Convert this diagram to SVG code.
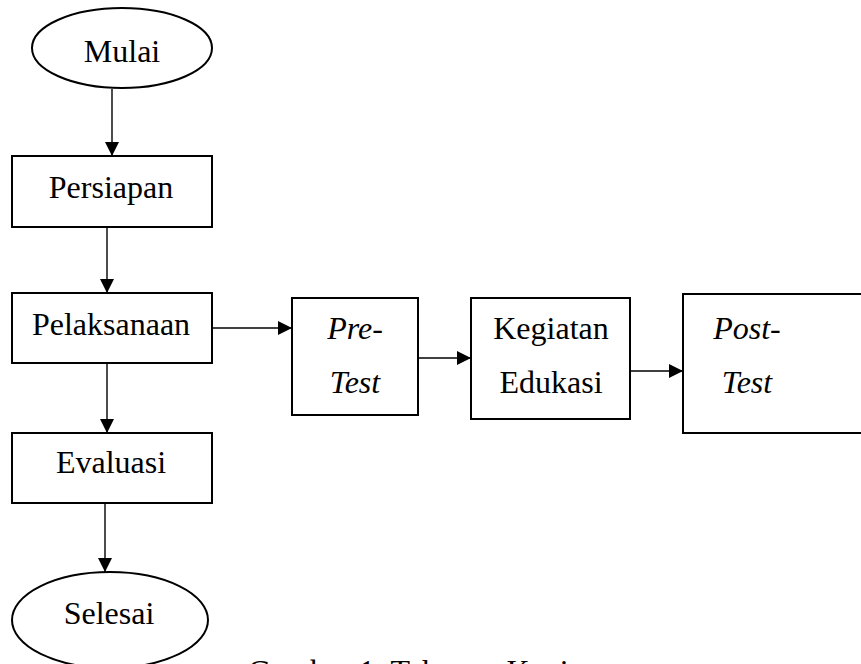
<svg xmlns="http://www.w3.org/2000/svg" width="861" height="664" viewBox="0 0 861 664">
<style>
.box{fill:#fff;stroke:#000;stroke-width:2}
.t{font-family:"Liberation Serif","Times New Roman",serif;font-size:32px;fill:#000;text-anchor:middle}
.i{font-style:italic}
.c{stroke:#000;stroke-width:1.4;fill:none}
</style>
<defs>
<marker id="ah" markerUnits="userSpaceOnUse" markerWidth="16" markerHeight="16" viewBox="0 0 16 16" refX="15" refY="8" orient="auto">
<path d="M1,1 L15,8 L1,15 Z" fill="#000"/>
</marker>
</defs>
<rect width="861" height="664" fill="#fff"/>
<g id="connectors">
<line class="c" x1="112" y1="89" x2="112" y2="156" marker-end="url(#ah)"/>
<line class="c" x1="107" y1="227" x2="107" y2="293" marker-end="url(#ah)"/>
<line class="c" x1="212" y1="328" x2="292" y2="328" marker-end="url(#ah)"/>
<line class="c" x1="107" y1="363" x2="107" y2="433" marker-end="url(#ah)"/>
<line class="c" x1="105" y1="503" x2="105" y2="572" marker-end="url(#ah)"/>
<line class="c" x1="418" y1="358" x2="471" y2="358" marker-end="url(#ah)"/>
<line class="c" x1="630" y1="371" x2="683" y2="371" marker-end="url(#ah)"/>
</g>
<g id="mulai">
<ellipse class="box" cx="122" cy="48" rx="90" ry="40"/>
<text class="t" x="122" y="62">Mulai</text>
</g>
<g id="persiapan">
<rect class="box" x="12" y="156" width="200" height="71"/>
<text class="t" x="111" y="198">Persiapan</text>
</g>
<g id="pelaksanaan">
<rect class="box" x="12" y="293" width="200" height="70"/>
<text class="t" x="111" y="335">Pelaksanaan</text>
</g>
<g id="evaluasi">
<rect class="box" x="12" y="433" width="200" height="70"/>
<text class="t" x="111" y="473">Evaluasi</text>
</g>
<g id="selesai">
<ellipse class="box" cx="110" cy="620" rx="98" ry="48"/>
<text class="t" x="109" y="624">Selesai</text>
</g>
<g id="pretest">
<rect class="box" x="292" y="298" width="126" height="117"/>
<text class="t i" x="355" y="339">Pre-</text>
<text class="t i" x="355" y="393">Test</text>
</g>
<g id="kegiatan">
<rect class="box" x="471" y="298" width="159" height="121"/>
<text class="t" x="551" y="339">Kegiatan</text>
<text class="t" x="551" y="393">Edukasi</text>
</g>
<g id="posttest">
<rect class="box" x="683" y="294" width="190" height="139"/>
<text class="t i" x="747" y="339">Post-</text>
<text class="t i" x="747" y="393">Test</text>
</g>
<text class="t" x="248" y="682" style="text-anchor:start">Gambar 1. Tahapan Kegiatan</text>
</svg>
